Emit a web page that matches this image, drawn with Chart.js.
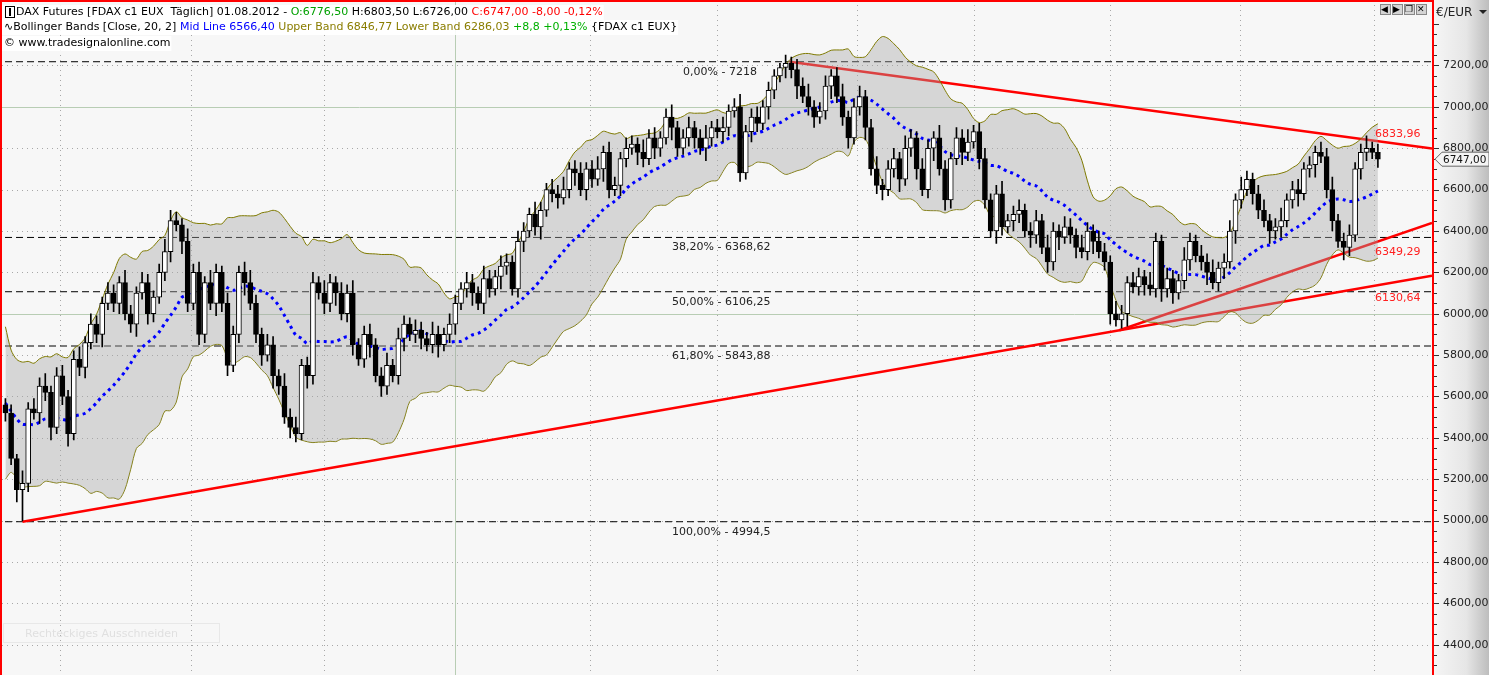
<!DOCTYPE html>
<html><head><meta charset="utf-8">
<script src="https://cdn.jsdelivr.net/npm/chart.js@4.4.1/dist/chart.umd.min.js"></script>
<style>html,body{margin:0;padding:0;background:#f7f7f7;overflow:hidden}#w{width:1489px;height:675px;position:relative}</style>
</head><body><div id="w"><canvas id="c" width="1489" height="675"></canvas></div>
<script>
// ---- data ----
const preCloses = [6100,5900,5700,5500,5600,5400,5300,5500,5600,5700,5500,5400,5600,5700,5500,5350,5400,5600,5500];
const closes = [
5520,5300,5150,5180,5540,5520,5650,5620,5450,5700,
5600,5420,5780,5740,5860,5950,5900,6050,6100,6050,
6150,6000,5950,6100,6150,6000,6080,6200,6300,6450,
6430,6350,6050,6200,5900,6150,6050,6200,6050,5750,
5900,6200,6150,6050,5900,5800,5850,5700,5650,5500,
5450,5420,5750,5700,6150,6100,6050,6150,6100,6000,
6100,5850,5780,5900,5850,5700,5650,5750,5700,5880,
5950,5900,5920,5880,5850,5900,5850,5900,5950,6050,
6120,6150,6100,6050,6170,6120,6180,6230,6250,6120,
6350,6400,6480,6420,6500,6600,6580,6560,6600,6700,
6680,6600,6700,6650,6700,6780,6600,6620,6750,6800,
6820,6780,6750,6850,6800,6850,6950,6900,6800,6850,
6900,6850,6800,6850,6900,6880,6900,6980,7000,6680,
6880,6950,6920,7000,7080,7150,7190,7210,7180,7100,
7050,7000,6950,6980,7100,7150,7050,6950,6850,7000,
7050,6900,6700,6620,6600,6700,6750,6650,6800,6850,
6700,6600,6800,6850,6700,6550,6750,6850,6780,6830,
6880,6750,6550,6400,6580,6420,6450,6480,6500,6400,
6380,6450,6320,6250,6400,6370,6420,6380,6320,6300,
6400,6350,6300,6250,6000,5970,6000,6150,6130,6180,
6140,6120,6350,6120,6170,6100,6160,6260,6350,6280,
6250,6200,6150,6220,6250,6400,6550,6600,6650,6580,
6500,6450,6400,6420,6450,6550,6600,6580,6700,6720,
6780,6760,6600,6450,6350,6320,6380,6700,6780,6800,
6780,6747];
const wickUp = [
30,40,20,60,30,50,40,60,30,40, 50,30,40,60,30,50,40,30,50,40, 30,60,40,30,50,40,30,40,60,50,
40,30,60,40,50,30,60,40,30,50, 40,30,50,60,40,30,50,40,30,60, 40,50,30,40,50,30,60,40,30,50,
40,60,30,40,50,30,40,60,30,50, 40,30,50,40,30,60,40,30,50,40, 30,50,40,30,60,40,30,50,40,30,
50,40,30,60,40,30,50,40,60,30, 40,50,30,40,60,30,50,40,30,50, 40,30,60,40,50,30,40,60,30,40,
50,30,40,60,30,40,50,30,40,60, 30,40,50,30,40,30,20,40,30,50, 40,60,30,40,50,30,40,60,30,40,
50,30,40,60,30,40,50,30,60,40, 30,50,40,30,60,40,30,50,40,60, 30,40,50,30,40,60,30,40,50,30,
40,50,30,60,40,30,50,40,30,60, 40,30,50,40,30,60,40,30,50,40, 30,60,40,30,50,40,30,60,40,30,
50,40,60,30,40,50,30,60,40,30, 40,50,30,40,60,30,40,50,30,40, 30,50,40,60,30,40,50,30,40,60,
30,40];
const wickDn = [
40,30,60,150,40,30,50,40,60,30, 40,60,30,40,50,30,40,60,30,40, 50,30,40,60,30,50,40,30,40,50,
30,60,40,30,50,40,30,60,40,50, 30,40,60,30,40,50,30,60,40,30, 50,40,30,60,40,30,50,40,60,30,
40,50,30,40,60,30,50,40,30,40, 60,30,40,50,30,40,60,30,40,50, 30,40,60,30,50,40,30,60,40,30,
40,50,30,40,60,30,40,50,30,40, 60,30,50,40,30,60,40,30,50,40, 30,60,40,30,50,40,30,60,40,30,
40,50,30,60,40,30,50,40,30,40, 30,50,40,30,60,40,30,50,40,60, 30,40,50,30,40,60,30,40,50,30,
40,60,30,40,50,30,40,60,30,40, 50,30,40,60,30,50,40,30,60,40, 30,50,40,30,60,40,30,50,40,30,
60,40,30,50,40,60,30,40,50,30, 40,60,30,40,50,30,40,60,30,40, 50,30,40,60,40,50,30,40,50,30,
40,60,30,40,50,30,60,40,30,50, 40,30,60,40,50,30,40,60,30,40, 60,30,40,50,30,60,40,30,50,40,
30,40];
const yTicks = [4400,4600,4800,5000,5200,5400,5600,5800,6000,6200,6400,6600,6800,7000,7200];
const fibLevels = [7218,6368.62,6106.25,5843.88,4994.5];
const fibLabels = ['0,00% - 7218','38,20% - 6368,62','50,00% - 6106,25','61,80% - 5843,88','100,00% - 4994,5'];
const monthBars = [9.6,32.5,56,102.6,125,149.5,170,194,216.7,240.4];
const highlightBar = 78.9;
const supportLine = [{x:3,y:4994.5},{x:250.5,y:6183.8}];
const resistLine = [{x:137.7,y:7218},{x:250.5,y:6798.6}];
const risingLine = [{x:195.6,y:5920},{x:250.5,y:6439}];
const lineLabels = [{t:'6833,96',v:6833.96,dy:-7},{t:'6349,29',v:6349.29,dy:11},{t:'6130,64',v:6130.64,dy:11}];
const lastPrice = 6747;

// ---- derived ----
const opens = closes.map((c,i)=> i===0 ? 5560 : closes[i-1]);
const full = preCloses.concat(closes);
const mid=[],up=[],lo=[];
closes.forEach((c,i)=>{
  const w = full.slice(i, i+20);
  const m = w.reduce((a,b)=>a+b,0)/w.length;
  const sd = Math.sqrt(w.reduce((a,b)=>a+(b-m)*(b-m),0)/w.length);
  mid.push({x:i,y:m}); up.push({x:i,y:m+2*sd}); lo.push({x:i,y:m-2*sd});
});
const wicks = closes.map((c,i)=>({x:i,y:[Math.min(c,opens[i])-wickDn[i], Math.max(c,opens[i])+wickUp[i]]}));
const bodies = closes.map((c,i)=>{let a=opens[i],b=c; if(Math.abs(a-b)<6){b=a+6;} return {x:i,y:[a,b]};});
const bodyCol = closes.map((c,i)=> c>=opens[i] ? '#ffffff' : '#000000');

const fibSets = fibLevels.map(v=>({type:'line',data:[{x:-2,y:v},{x:252,y:v}],borderColor:'#000',borderWidth:1,borderDash:[7,4],pointRadius:0,order:12}));

const fmt = v => v.toFixed(2).replace('.',',');

const bg = {
  id:'bg',
  beforeDraw(ch){
    const {ctx,chartArea:a,scales:{x,y}} = ch;
    ctx.save();
    ctx.fillStyle='#f7f7f7'; ctx.fillRect(0,0,a.right,675);
    const g=ctx.createLinearGradient(a.right,0,1489,0);
    g.addColorStop(0,'#f6f6f6'); g.addColorStop(0.6,'#e6e6e6'); g.addColorStop(1,'#bdbdbd');
    ctx.fillStyle=g; ctx.fillRect(a.right,0,1489-a.right,675);
    ctx.lineWidth=1;
    yTicks.forEach(v=>{
      const py=Math.round(y.getPixelForValue(v))+0.5;
      if(v===6000||v===7000){ctx.setLineDash([]);ctx.strokeStyle='#b8cdb4';}
      else {ctx.setLineDash([1,4]);ctx.strokeStyle='#a8a8a8';}
      ctx.beginPath();ctx.moveTo(a.left,py);ctx.lineTo(a.right,py);ctx.stroke();
    });
    ctx.setLineDash([1,4]);ctx.strokeStyle='#a8a8a8';
    monthBars.forEach(b=>{const px=Math.round(x.getPixelForValue(b))+0.5;ctx.beginPath();ctx.moveTo(px,0);ctx.lineTo(px,675);ctx.stroke();});
    ctx.setLineDash([]);ctx.strokeStyle='#b8cdb4';
    const hx=Math.round(x.getPixelForValue(highlightBar))+0.5;ctx.beginPath();ctx.moveTo(hx,0);ctx.lineTo(hx,675);ctx.stroke();
    ctx.restore();
  },
  afterDraw(ch){
    const {ctx,chartArea:a,scales:{x,y}} = ch;
    ctx.save();
    ctx.font='11px "DejaVu Sans"';ctx.fillStyle='#222';ctx.textAlign='left';ctx.textBaseline='middle';
    fibLevels.forEach((v,i)=>{const py=y.getPixelForValue(v);ctx.fillText(fibLabels[i], i===0?683:672, py+10);});
    ctx.fillStyle='#ff2020';
    lineLabels.forEach(l=>{ctx.fillText(l.t,1375,y.getPixelForValue(l.v)+l.dy);});
    ctx.fillStyle='#ff0000';
    ctx.fillRect(0,0,a.right+1,2); ctx.fillRect(0,0,2,675); ctx.fillRect(a.right,0,2,675);
    ctx.strokeStyle='#333';ctx.lineWidth=1;
    for(let v=4250;v<=7500;v+=50){const py=Math.round(y.getPixelForValue(v))+0.5;if(py<22||py>675)continue;const L=(v%200===0)?5:3;ctx.beginPath();ctx.moveTo(a.right+2,py);ctx.lineTo(a.right+2+L,py);ctx.stroke();}
    ctx.fillStyle='#222';ctx.font='12px "DejaVu Sans"';ctx.fillText('€/EUR',a.right+4,13);
    ctx.beginPath();ctx.moveTo(1479,10);ctx.lineTo(1487,10);ctx.lineTo(1483,14);ctx.fill();
    const py=y.getPixelForValue(lastPrice);
    ctx.fillStyle='#f4f4f4';ctx.strokeStyle='#666';
    ctx.beginPath();ctx.moveTo(a.right+3,py);ctx.lineTo(a.right+10,py-7);ctx.lineTo(1489,py-7);ctx.lineTo(1489,py+7);ctx.lineTo(a.right+10,py+7);ctx.closePath();ctx.fill();ctx.stroke();
    ctx.fillStyle='#111';ctx.font='10.5px "DejaVu Sans"';ctx.fillText('6747,00',a.right+11,py+1);
    [1388,1400,1412,1424].forEach((bx,i)=>{ctx.fillStyle='#d4d4d4';ctx.fillRect(bx-8,4,11,11);ctx.strokeStyle='#888';ctx.strokeRect(bx-7.5,4.5,10,10);
      ctx.fillStyle='#000';ctx.font='9px "DejaVu Sans"';ctx.fillText(['◀','▶','❐','✕'][i],bx-7,10);});
    const lines=[
      [['DAX Futures [FDAX c1 EUX  Täglich] 01.08.2012 - ','#000'],['O:6776,50','#00a000'],[' H:6803,50 L:6726,00 ','#000'],['C:6747,00 -8,00 -0,12%','#ff0000']],
      [['∿Bollinger Bands [Close, 20, 2] ','#000'],['Mid Line 6566,40','#0000ff'],[' Upper Band 6846,77 Lower Band 6286,03','#8a7d00'],[' +8,8 +0,13%','#00b000'],[' {FDAX c1 EUX}','#000']],
      [['© www.tradesignalonline.com','#000']]
    ];
    ctx.font='11px "DejaVu Sans"';ctx.textBaseline='middle';
    lines.forEach((ln,li)=>{
      let xx= li===0?16:4; const yy=[12,27,43][li];
      const total = ln.reduce((s,p)=>s+ctx.measureText(p[0]).width,0);
      ctx.fillStyle='rgba(255,255,255,0.9)';ctx.fillRect(2,yy-7,xx+total-1,15);
      ln.forEach(p=>{ctx.fillStyle=p[1];ctx.fillText(p[0],xx,yy);xx+=ctx.measureText(p[0]).width;});
    });
    ctx.strokeStyle='#000';ctx.strokeRect(5.5,6.5,9,11);ctx.fillStyle='#000';ctx.fillRect(9,8,2,8);
    ctx.strokeStyle='#e8e8e8';ctx.strokeRect(3.5,623.5,216,19);ctx.fillStyle='#e0e0e0';ctx.fillText('Rechteckiges Ausschneiden',25,634);
    ctx.restore();
  }
};

new Chart(document.getElementById('c'),{
  data:{datasets:[
    {type:'line',data:supportLine,borderColor:'#ff0000',borderWidth:2.5,pointRadius:0,order:10},
    {type:'line',data:resistLine,borderColor:'#ff0000',borderWidth:2.5,pointRadius:0,order:10},
    {type:'line',data:risingLine,borderColor:'#ff0000',borderWidth:2.5,pointRadius:0,order:10},
    ...fibSets,
    {type:'line',data:up,borderColor:'#7f7a00',borderWidth:1,pointRadius:0,tension:0.3,fill:'+1',backgroundColor:'rgba(165,165,165,0.4)',order:6},
    {type:'line',data:lo,borderColor:'#7f7a00',borderWidth:1,pointRadius:0,tension:0.3,fill:false,order:6},
    {type:'line',data:mid,borderColor:'#0000ff',borderWidth:3,borderDash:[3,4],pointRadius:0,tension:0.3,order:3},
    {type:'bar',data:wicks,backgroundColor:'#000',barThickness:1,grouped:false,order:2},
    {type:'bar',data:bodies,backgroundColor:bodyCol,borderColor:'#000',borderWidth:1,borderSkipped:false,barThickness:5,grouped:false,order:1}
  ]},
  options:{
    responsive:false,animation:false,devicePixelRatio:1,
    layout:{padding:{left:2,top:2,right:0,bottom:0}},
    plugins:{legend:{display:false},tooltip:{enabled:false}},
    scales:{
      x:{type:'linear',display:false,offset:false,min:-0.6,max:250.5},
      y:{position:'right',min:4300,max:7470,
        afterBuildTicks(s){s.ticks=yTicks.map(v=>({value:v}));},
        afterFit(s){s.width=57;},
        grid:{display:false},border:{display:false},
        ticks:{callback:v=>fmt(v),color:'#222',font:{family:'DejaVu Sans',size:11},padding:3}
      }
    }
  },
  plugins:[bg]
});
</script></body></html>
